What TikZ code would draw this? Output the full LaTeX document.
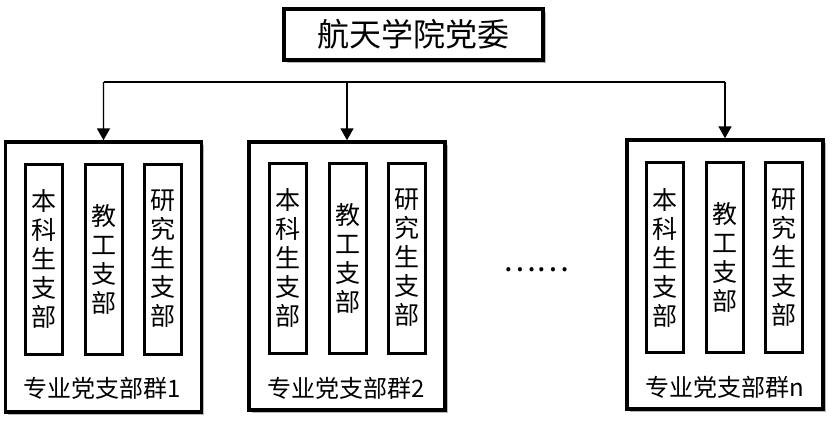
\documentclass[tikz,border=0pt]{standalone}
\usepackage{fontspec}
\setmainfont{Noto Sans CJK SC}
\newfontfamily\cjk{Noto Sans CJK SC}
\usetikzlibrary{shadows,arrows.meta}
\begin{document}
\begin{tikzpicture}[x=1pt,y=-1pt,
  shd/.style={drop shadow={shadow xshift=2.5pt,shadow yshift=-2.5pt,opacity=.28,fill=black}},
  topbox/.style={draw,line width=3.5pt,fill=white,shd,minimum width=259pt,minimum height=51pt,inner sep=0pt,font=\cjk\fontsize{32}{32}\selectfont},
  groupbox/.style={draw,line width=3.5pt,fill=white,shd,minimum width=196pt,minimum height=268pt,inner sep=0pt},
  branch/.style={draw,line width=3pt,fill=white,minimum width=37pt,minimum height=190pt,inner sep=0pt,align=center,font=\cjk\fontsize{25}{29}\selectfont},
  glabel/.style={inner sep=0pt,font=\cjk\fontsize{24}{24}\selectfont},
  conn/.style={line width=1.8pt},
  connshd/.style={line width=2.5pt,draw=black!15},
  arr/.style={conn,-{Triangle[length=12pt,width=13pt]}}
]
\useasboundingbox (0,0) rectangle (837,432);
\node[topbox] (top) at (413.5,34.5) {航天学院党委};

\node[groupbox,minimum height=270pt] (g1) at (103.5,277) {};
\node[groupbox] (g2) at (347,276) {};
\node[groupbox,minimum height=269pt] (gn) at (725,274.5) {};

\foreach \g/\gx/\gy/\lab in {g1/103.5/259/1, g2/347.5/258/2, gn/724.5/257.5/n}{
  \node[branch] (\g a) at (\gx-59.5,\gy) {本\\科\\生\\支\\部};
  \node[branch] (\g b) at (\gx,\gy) {教\\工\\支\\部};
  \node[branch] (\g c) at (\gx+59.5,\gy) {研\\究\\生\\支\\部};
}
\node[glabel] (l1) at (102.5,388) {专业党支部群1};
\node[glabel] (l2) at (346.5,388) {专业党支部群2};
\node[glabel] (ln) at (725,387) {专业党支部群n};

\coordinate (bus) at (413.5,82);
\begin{scope}[xshift=2.5pt,yshift=-3pt]
  \draw[connshd] (g1.north |- bus) -- (gn.north |- bus);
  \foreach \g in {g1,g2,gn}{\draw[connshd] (\g.north |- bus) -- ([yshift=8pt]\g.north);}
\end{scope}
\draw[conn] (g1.north |- bus) -- (gn.north |- bus);
\draw[arr] (g1.north |- bus) -- (g1.north);
\draw[arr] (g2.north |- bus) -- (g2.north);
\draw[arr] (gn.north |- bus) -- (gn.north);

\node[inner sep=0pt,font=\cjk\fontsize{31}{31}\selectfont] (dots) at (536,270) {……};
\end{tikzpicture}
\end{document}
